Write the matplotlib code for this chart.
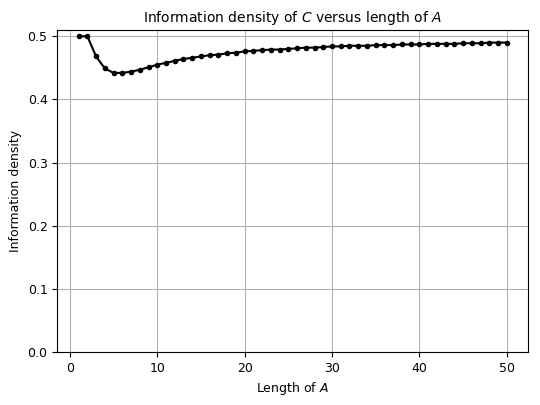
import matplotlib
matplotlib.use("Agg")
import matplotlib.pyplot as plt

plt.rcParams['font.size'] = 9
plt.rcParams['axes.titlesize'] = 10

lengths = list(range(1, 51))
density = [0.500, 0.500, 0.468, 0.449, 0.442, 0.442, 0.444, 0.447, 0.451, 0.455,
           0.458, 0.461, 0.464, 0.466, 0.468, 0.470, 0.471, 0.473, 0.474, 0.476,
           0.477, 0.478, 0.479, 0.479, 0.480, 0.481, 0.482, 0.482, 0.483, 0.484,
           0.484, 0.485, 0.485, 0.485, 0.486, 0.486, 0.486, 0.487, 0.487, 0.487,
           0.488, 0.488, 0.488, 0.488, 0.489, 0.489, 0.489, 0.490, 0.490, 0.490]

fig, ax = plt.subplots(figsize=(5.4, 4.05), dpi=100)
ax.plot(lengths, density, 'k.-', lw=1.5, ms=6)
ax.set_ylim(0, 0.51)
ax.grid(True)
ax.set_title("Information density of $C$ versus length of $A$")
ax.set_xlabel("Length of $A$")
ax.set_ylabel("Information density")
fig.subplots_adjust(left=0.106, right=0.978, top=0.926, bottom=0.131)
fig.savefig("out.png")
